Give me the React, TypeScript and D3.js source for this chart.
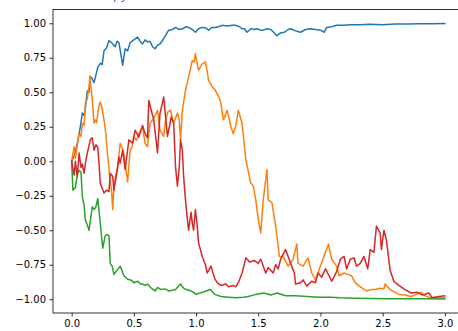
import React, { useRef, useEffect } from 'react';
import * as d3 from 'd3';

// [x, y] samples, one array per series
const blueSeries: [number, number][] = [
  [0, 0], [0.02, 0.04], [0.046, 0.13], [0.07, 0.25], [0.086, 0.35], [0.1, 0.33], [0.11, 0.38], [0.126, 0.51],
  [0.14, 0.5], [0.15, 0.61], [0.165, 0.6], [0.18, 0.57], [0.21, 0.68], [0.23, 0.71], [0.245, 0.7], [0.26, 0.8],
  [0.28, 0.82], [0.30, 0.875], [0.32, 0.86], [0.33, 0.85], [0.35, 0.83], [0.365, 0.87], [0.38, 0.86], [0.395, 0.78],
  [0.41, 0.695], [0.43, 0.815], [0.45, 0.8], [0.47, 0.86], [0.5, 0.88], [0.53, 0.9], [0.55, 0.87], [0.57, 0.85],
  [0.59, 0.88], [0.61, 0.865], [0.63, 0.87], [0.65, 0.83], [0.67, 0.815], [0.69, 0.84], [0.71, 0.85], [0.73, 0.875],
  [0.76, 0.92], [0.78, 0.95], [0.81, 0.955], [0.835, 0.97], [0.86, 0.955], [0.89, 0.96], [0.92, 0.975], [0.94, 0.97],
  [0.97, 0.955], [0.995, 0.935], [1.02, 0.96], [1.05, 0.97], [1.08, 0.965], [1.1, 0.95], [1.13, 0.97], [1.155, 0.97],
  [1.18, 0.975], [1.21, 0.985], [1.25, 0.98], [1.29, 0.985], [1.32, 0.985], [1.35, 0.975], [1.37, 0.96], [1.39, 0.96],
  [1.41, 0.935], [1.44, 0.96], [1.47, 0.955], [1.49, 0.96], [1.52, 0.95], [1.54, 0.95], [1.57, 0.96], [1.6, 0.955],
  [1.63, 0.93], [1.65, 0.91], [1.68, 0.93], [1.71, 0.935], [1.74, 0.955], [1.76, 0.96], [1.8, 0.945], [1.84, 0.935],
  [1.88, 0.955], [1.92, 0.96], [1.96, 0.955], [2.0, 0.95], [2.03, 0.935], [2.05, 0.97], [2.09, 0.975], [2.13, 0.985],
  [2.18, 0.985], [2.24, 0.99], [2.32, 0.99], [2.4, 0.993], [2.5, 0.99], [2.6, 0.995], [2.7, 0.994], [2.8, 0.996],
  [2.9, 0.996], [3.0, 0.998],
];

const orangeSeries: [number, number][] = [
  [0, 0], [0.02, 0.105], [0.03, 0.02], [0.045, 0.12], [0.06, 0.2], [0.075, 0.18], [0.086, 0.275], [0.1, 0.26],
  [0.11, 0.42], [0.125, 0.45], [0.14, 0.54], [0.147, 0.62], [0.155, 0.55], [0.166, 0.44], [0.18, 0.275], [0.19, 0.3],
  [0.2, 0.28], [0.22, 0.405], [0.23, 0.43], [0.245, 0.38], [0.26, 0.3], [0.275, 0.2], [0.285, 0.08], [0.3, -0.05],
  [0.31, -0.16], [0.32, -0.2], [0.33, -0.35], [0.34, -0.18], [0.355, -0.1], [0.37, -0.04], [0.39, 0.13], [0.405, 0.1],
  [0.42, 0.05], [0.435, -0.05], [0.45, -0.15], [0.47, 0.08], [0.485, 0.1], [0.5, 0.18], [0.52, 0.15], [0.54, 0.2],
  [0.57, 0.25], [0.59, 0.13], [0.61, 0.105], [0.63, 0.275], [0.66, 0.31], [0.69, 0.37], [0.71, 0.225], [0.74, 0.18],
  [0.755, 0.3], [0.775, 0.36], [0.795, 0.37], [0.82, 0.275], [0.85, 0.35], [0.865, 0.3], [0.875, 0.155], [0.89, 0.37],
  [0.915, 0.515], [0.94, 0.61], [0.97, 0.73], [0.985, 0.72], [0.995, 0.78], [1.01, 0.7], [1.02, 0.66], [1.05, 0.705],
  [1.075, 0.72], [1.09, 0.65], [1.1, 0.59], [1.13, 0.54], [1.15, 0.52], [1.17, 0.49], [1.195, 0.44], [1.22, 0.3],
  [1.25, 0.37], [1.28, 0.25], [1.3, 0.2], [1.32, 0.26], [1.34, 0.37], [1.37, 0.275], [1.4, 0.01], [1.44, -0.16],
  [1.46, -0.18], [1.48, -0.28], [1.5, -0.42], [1.52, -0.52], [1.54, -0.28], [1.57, -0.06], [1.58, -0.28],
  [1.61, -0.3], [1.64, -0.47], [1.67, -0.69], [1.7, -0.69], [1.74, -0.76], [1.78, -0.71], [1.81, -0.6], [1.82, -0.74],
  [1.86, -0.76], [1.9, -0.7], [1.93, -0.81], [1.96, -0.86], [2.0, -0.76], [2.04, -0.66], [2.065, -0.6], [2.09, -0.71],
  [2.13, -0.76], [2.15, -0.83], [2.19, -0.81], [2.22, -0.82], [2.25, -0.83], [2.28, -0.88], [2.32, -0.91],
  [2.37, -0.94], [2.41, -0.93], [2.44, -0.93], [2.48, -0.92], [2.51, -0.925], [2.52, -0.89], [2.56, -0.93],
  [2.6, -0.95], [2.63, -0.965], [2.68, -0.97], [2.73, -0.98], [2.77, -0.965], [2.81, -0.95], [2.84, -0.975],
  [2.87, -0.985], [2.94, -0.99], [3.0, -0.99],
];

const greenSeries: [number, number][] = [
  [0, 0], [0.01, -0.21], [0.03, -0.19], [0.045, -0.1], [0.06, -0.065], [0.075, -0.08], [0.086, -0.255],
  [0.1, -0.32], [0.11, -0.425], [0.125, -0.46], [0.14, -0.5], [0.155, -0.4], [0.166, -0.33], [0.18, -0.35],
  [0.195, -0.33], [0.21, -0.27], [0.23, -0.45], [0.25, -0.63], [0.27, -0.54], [0.285, -0.53], [0.3, -0.54],
  [0.31, -0.74], [0.325, -0.76], [0.34, -0.82], [0.355, -0.8], [0.37, -0.785], [0.39, -0.76], [0.42, -0.83],
  [0.45, -0.855], [0.475, -0.86], [0.5, -0.88], [0.53, -0.87], [0.555, -0.89], [0.57, -0.89], [0.59, -0.9],
  [0.61, -0.89], [0.64, -0.92], [0.67, -0.94], [0.69, -0.915], [0.72, -0.93], [0.75, -0.925], [0.78, -0.94],
  [0.81, -0.935], [0.835, -0.93], [0.855, -0.91], [0.875, -0.89], [0.9, -0.92], [0.92, -0.93], [0.96, -0.94],
  [0.98, -0.95], [1.0, -0.965], [1.05, -0.95], [1.08, -0.94], [1.115, -0.93], [1.15, -0.965], [1.2, -0.98],
  [1.26, -0.985], [1.32, -0.99], [1.38, -0.985], [1.42, -0.98], [1.48, -0.965], [1.545, -0.955], [1.6, -0.97],
  [1.65, -0.955], [1.72, -0.975], [1.8, -0.975], [1.89, -0.98], [2.0, -0.985], [2.08, -0.985], [2.16, -0.99],
  [2.28, -0.993], [2.4, -0.995], [2.55, -0.996], [2.7, -0.997], [2.85, -0.997], [3.0, -0.998],
];

const redSeries: [number, number][] = [
  [0, 0], [0.02, -0.1], [0.03, 0], [0.045, -0.11], [0.06, 0.06], [0.075, -0.045], [0.086, -0.02], [0.1, -0.087],
  [0.113, 0.0], [0.126, 0.06], [0.15, 0.155], [0.166, 0.17], [0.18, 0.08], [0.195, 0.12], [0.21, 0.1],
  [0.22, -0.015], [0.23, -0.16], [0.26, -0.23], [0.28, -0.21], [0.3, -0.22], [0.31, -0.087], [0.33, -0.11],
  [0.34, -0.21], [0.37, -0.04], [0.38, 0.03], [0.39, -0.015], [0.41, 0.08], [0.43, -0.06], [0.46, 0.155],
  [0.49, 0.13], [0.51, 0.225], [0.54, 0.175], [0.57, 0.26], [0.59, 0.2], [0.61, 0.17], [0.62, 0.44], [0.64, 0.37],
  [0.66, 0.3], [0.69, 0.06], [0.71, 0.345], [0.74, 0.465], [0.77, 0.18], [0.79, 0.27], [0.8, 0.32], [0.82, 0.275],
  [0.835, -0.04], [0.85, -0.18], [0.865, -0.04], [0.875, 0.155], [0.89, 0.08], [0.9, -0.11], [0.915, -0.28],
  [0.93, -0.42], [0.94, -0.5], [0.96, -0.37], [0.97, -0.45], [0.98, -0.5], [0.995, -0.35], [1.01, -0.47],
  [1.02, -0.59], [1.05, -0.69], [1.075, -0.75], [1.09, -0.81], [1.12, -0.76], [1.15, -0.85], [1.17, -0.88],
  [1.2, -0.9], [1.24, -0.89], [1.26, -0.91], [1.3, -0.9], [1.32, -0.91], [1.34, -0.88], [1.37, -0.81], [1.4, -0.7],
  [1.43, -0.73], [1.47, -0.72], [1.5, -0.74], [1.52, -0.71], [1.56, -0.81], [1.58, -0.77], [1.62, -0.81],
  [1.64, -0.75], [1.66, -0.78], [1.68, -0.71], [1.72, -0.64], [1.76, -0.74], [1.79, -0.81], [1.8, -0.89],
  [1.84, -0.88], [1.86, -0.86], [1.89, -0.905], [1.93, -0.87], [1.96, -0.88], [1.98, -0.81], [2.01, -0.84],
  [2.04, -0.78], [2.07, -0.83], [2.09, -0.87], [2.13, -0.8], [2.16, -0.71], [2.19, -0.69], [2.21, -0.78],
  [2.24, -0.71], [2.27, -0.7], [2.29, -0.76], [2.32, -0.74], [2.35, -0.69], [2.38, -0.78], [2.4, -0.64],
  [2.43, -0.66], [2.45, -0.47], [2.48, -0.52], [2.49, -0.64], [2.51, -0.5], [2.53, -0.57], [2.56, -0.79],
  [2.59, -0.87], [2.63, -0.9], [2.68, -0.93], [2.73, -0.955], [2.78, -0.95], [2.82, -0.97], [2.87, -0.955],
  [2.9, -0.99], [2.95, -0.98], [3.0, -0.975],
];

const seriesColors = ['#1f77b4', '#ff7f0e', '#2ca02c', '#d62728'];
const xTicks = [0.0, 0.5, 1.0, 1.5, 2.0, 2.5, 3.0];
const yTicks = [-1.0, -0.75, -0.5, -0.25, 0.0, 0.25, 0.5, 0.75, 1.0];

const App = () => {
  const svgRef = useRef<SVGSVGElement>(null);

  useEffect(() => {
    d3.select(svgRef.current).selectAll('*').remove();

    const W = 458;
    const H = 331;
    const margin = { top: 9.5, right: -5.5, bottom: 18, left: 53 };
    const width = W - margin.left - margin.right;
    const height = H - margin.top - margin.bottom;

    const svg = d3.select(svgRef.current)
      .attr('width', W)
      .attr('height', H)
      .style('font-family', '"DejaVu Sans", sans-serif');

    svg.append('rect').attr('width', W).attr('height', H).attr('fill', '#fff');

    // clipped title, only the descenders peek in
    svg.append('text')
      .attr('x', 113)
      .attr('y', -1.5)
      .attr('font-size', 12)
      .attr('fill', '#2f62d3')
      .text('py');

    const g = svg.append('g').attr('transform', `translate(${margin.left},${margin.top})`);

    const xScale = d3.scaleLinear().domain([-0.15, 3.15]).range([0, width]);
    const yScale = d3.scaleLinear().domain([-1.0998, 1.0998]).range([height, 0]);

    const xAxis = d3.axisBottom(xScale).tickValues(xTicks).tickSize(3.5).tickPadding(3.5)
      .tickFormat(d3.format('.1f'));
    const yAxis = d3.axisLeft(yScale).tickValues(yTicks).tickSize(3.5).tickPadding(3.5)
      .tickFormat(d => d3.format('.2f')(d as number).replace('-', '\u2212'));

    const gx = g.append('g').attr('transform', `translate(0,${height})`).call(xAxis);
    const gy = g.append('g').call(yAxis);
    [gx, gy].forEach(a => {
      a.select('.domain').remove();
      a.selectAll('line').attr('stroke', '#000').attr('stroke-width', 0.8);
      a.selectAll('text').attr('font-size', 10).attr('fill', '#000')
        .attr('font-family', '"DejaVu Sans", sans-serif');
    });

    g.append('clipPath').attr('id', 'plot-clip')
      .append('rect').attr('width', width).attr('height', height);

    const line = d3.line<[number, number]>()
      .x(d => xScale(d[0]))
      .y(d => yScale(d[1]));

    [blueSeries, orangeSeries, greenSeries, redSeries].forEach((s, i) => {
      g.append('path')
        .datum(s)
        .attr('clip-path', 'url(#plot-clip)')
        .attr('fill', 'none')
        .attr('stroke', seriesColors[i])
        .attr('stroke-width', 1.5)
        .attr('stroke-linejoin', 'round')
        .attr('stroke-linecap', 'square')
        .attr('d', line);
    });

    // spines
    g.append('rect')
      .attr('width', width)
      .attr('height', height)
      .attr('fill', 'none')
      .attr('stroke', '#000')
      .attr('stroke-width', 0.8);
  }, []);

  return <svg ref={svgRef} style={{ position: 'absolute', left: 0, top: 0, display: 'block' }}></svg>;
};

export default App;
